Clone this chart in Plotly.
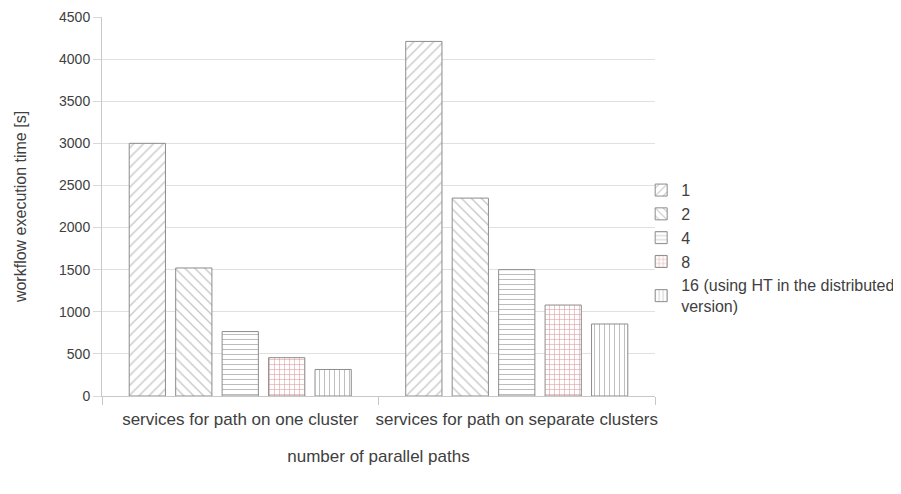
import plotly.graph_objects as go

categories = ["services for path on one cluster", "services for path on separate clusters"]
series_names = ["1", "2", "4", "8", "16 (using HT in the distributed<br>version)"]
values_1 = [3000, 4210]
values_2 = [1520, 2350]
values_4 = [765, 1500]
values_8 = [455, 1080]
values_16 = [315, 855]
y_ticks = [0, 500, 1000, 1500, 2000, 2500, 3000, 3500, 4000, 4500]

series_values = [values_1, values_2, values_4, values_8, values_16]
shapes = ["/", "\\", "-", "+", "|"]
fgcolors = ["#8a8a8a", "#8a8a8a", "#7a7a7a", "#b82828", "#808080"]
sizes = [7, 7, 5, 5, 5]
solid = [0.18, 0.18, 0.2, 0.2, 0.2]

fig = go.Figure()
for name, vals, sh, fg, sz, so in zip(series_names, series_values, shapes, fgcolors, sizes, solid):
    fig.add_trace(go.Bar(
        x=categories, y=vals, name=name,
        marker=dict(color="white",
                    line=dict(color="#8c8c8c", width=1),
                    pattern=dict(shape=sh, fgcolor=fg, bgcolor="white", size=sz, solidity=so)),
    ))

FAM = "Liberation Sans, Arial, sans-serif"
fig.update_layout(
    width=893, height=486,
    margin=dict(l=94, r=246, t=9, b=98, autoexpand=False),
    plot_bgcolor="white", paper_bgcolor="white",
    barmode="group", bargap=0.16, bargroupgap=0.22,
    font=dict(family=FAM, size=14, color="#404040"),
    showlegend=True,
    legend=dict(x=0.975, y=0.588, xanchor="left", yanchor="top",
                font=dict(family=FAM, size=16, color="#404040"),
                bgcolor="rgba(0,0,0,0)", itemwidth=30),
    xaxis=dict(
        automargin=False,
        title=dict(text="number of parallel paths", standoff=21,
                   font=dict(family=FAM, size=17, color="#404040")),
        tickfont=dict(family=FAM, size=17, color="#404040"),
        tickangle=0, ticklabelstandoff=8,
        showline=True, linecolor="#c8c8c8", linewidth=1,
        ticks="outside", tickson="boundaries", ticklen=8, tickcolor="#c8c8c8",
        showgrid=False,
    ),
    yaxis=dict(
        automargin=False,
        title=dict(text="workflow execution time [s]", standoff=28,
                   font=dict(family=FAM, size=16, color="#404040")),
        tickfont=dict(family=FAM, size=14, color="#404040"),
        range=[0, 4500], tickvals=y_ticks, showline=True, linecolor="#c8c8c8",
        ticks="outside", ticklen=8, tickcolor="#d8d8d8",
        showgrid=True, gridcolor="#e0e0e0", gridwidth=1, zeroline=False,
    ),
)

fig.write_html("out.html")
